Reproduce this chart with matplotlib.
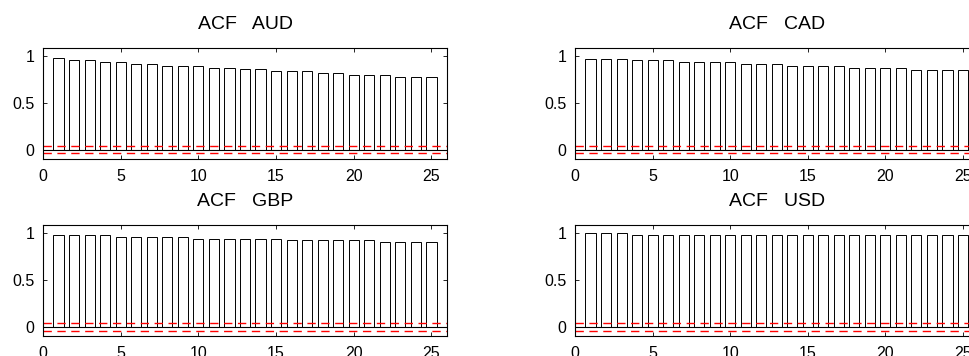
import matplotlib
matplotlib.use('Agg')
import matplotlib.pyplot as plt
import numpy as np

plt.rcParams['font.family'] = ['Liberation Sans', 'DejaVu Sans']

# ACF values per lag
lags = np.arange(1, 26)
acfAUD = [0.98, 0.96, 0.96, 0.94, 0.94, 0.92, 0.92, 0.90, 0.90, 0.90,
          0.88, 0.88, 0.86, 0.86, 0.84, 0.84, 0.84, 0.82, 0.82, 0.80,
          0.80, 0.80, 0.78, 0.78, 0.78]
acfCAD = [0.975, 0.975, 0.975, 0.957, 0.957, 0.957, 0.936, 0.936, 0.936, 0.936,
          0.918, 0.918, 0.918, 0.896, 0.896, 0.896, 0.896, 0.875, 0.875, 0.875,
          0.875, 0.854, 0.854, 0.854, 0.854]
acfGBP = [0.98, 0.98, 0.98, 0.98, 0.961, 0.961, 0.961, 0.961, 0.961, 0.943,
          0.943, 0.943, 0.943, 0.943, 0.943, 0.925, 0.925, 0.925, 0.925, 0.925,
          0.925, 0.904, 0.904, 0.904, 0.904]
acfUSD = [1.0, 1.0, 1.0] + [0.979] * 22
bounds = {'AUD': 0.04, 'CAD': 0.04, 'GBP': 0.042, 'USD': 0.042}

currencies = ['AUD', 'CAD', 'GBP', 'USD']
acfData = {'AUD': acfAUD, 'CAD': acfCAD, 'GBP': acfGBP, 'USD': acfUSD}

W, H = 969, 356
fig = plt.figure(figsize=(W / 100, H / 100), dpi=100)

# axes boxes in pixels: left, top, right, bottom
boxes = {
    'AUD': (43, 48, 447, 159),
    'CAD': (575, 48, 978.5, 159),
    'GBP': (43, 225, 447, 336),
    'USD': (575, 225, 978.5, 336),
}

for cur in currencies:
    l, t, r, b = boxes[cur]
    ax = fig.add_axes([l / W, (H - b) / H, (r - l) / W, (b - t) / H])
    ax.bar(lags, acfData[cur], width=0.65, color='white', edgecolor='black', linewidth=0.7)
    ax.axhline(0, color='black', linewidth=0.8)
    ax.axhline(bounds[cur], color='red', linewidth=1.0, dashes=(6, 4))
    ax.axhline(-bounds[cur], color='red', linewidth=1.0, dashes=(6, 4))
    ax.set_xlim(0, 26)
    ax.set_ylim(-0.1, 1.09)
    ax.set_xticks([0, 5, 10, 15, 20, 25])
    ax.set_yticks([0, 0.5, 1])
    ax.set_yticklabels(['0', '0.5', '1'])
    ax.tick_params(direction='in', length=3, width=0.6, top=True, right=True, labelsize=11.5)
    ax.tick_params(axis='x', pad=7)
    ax.tick_params(axis='y', pad=6)
    for s in ax.spines.values():
        s.set_linewidth(0.8)
    ax.set_title('ACF   ' + cur, fontsize=14, pad=14)

fig.savefig('out.png', dpi=100)
